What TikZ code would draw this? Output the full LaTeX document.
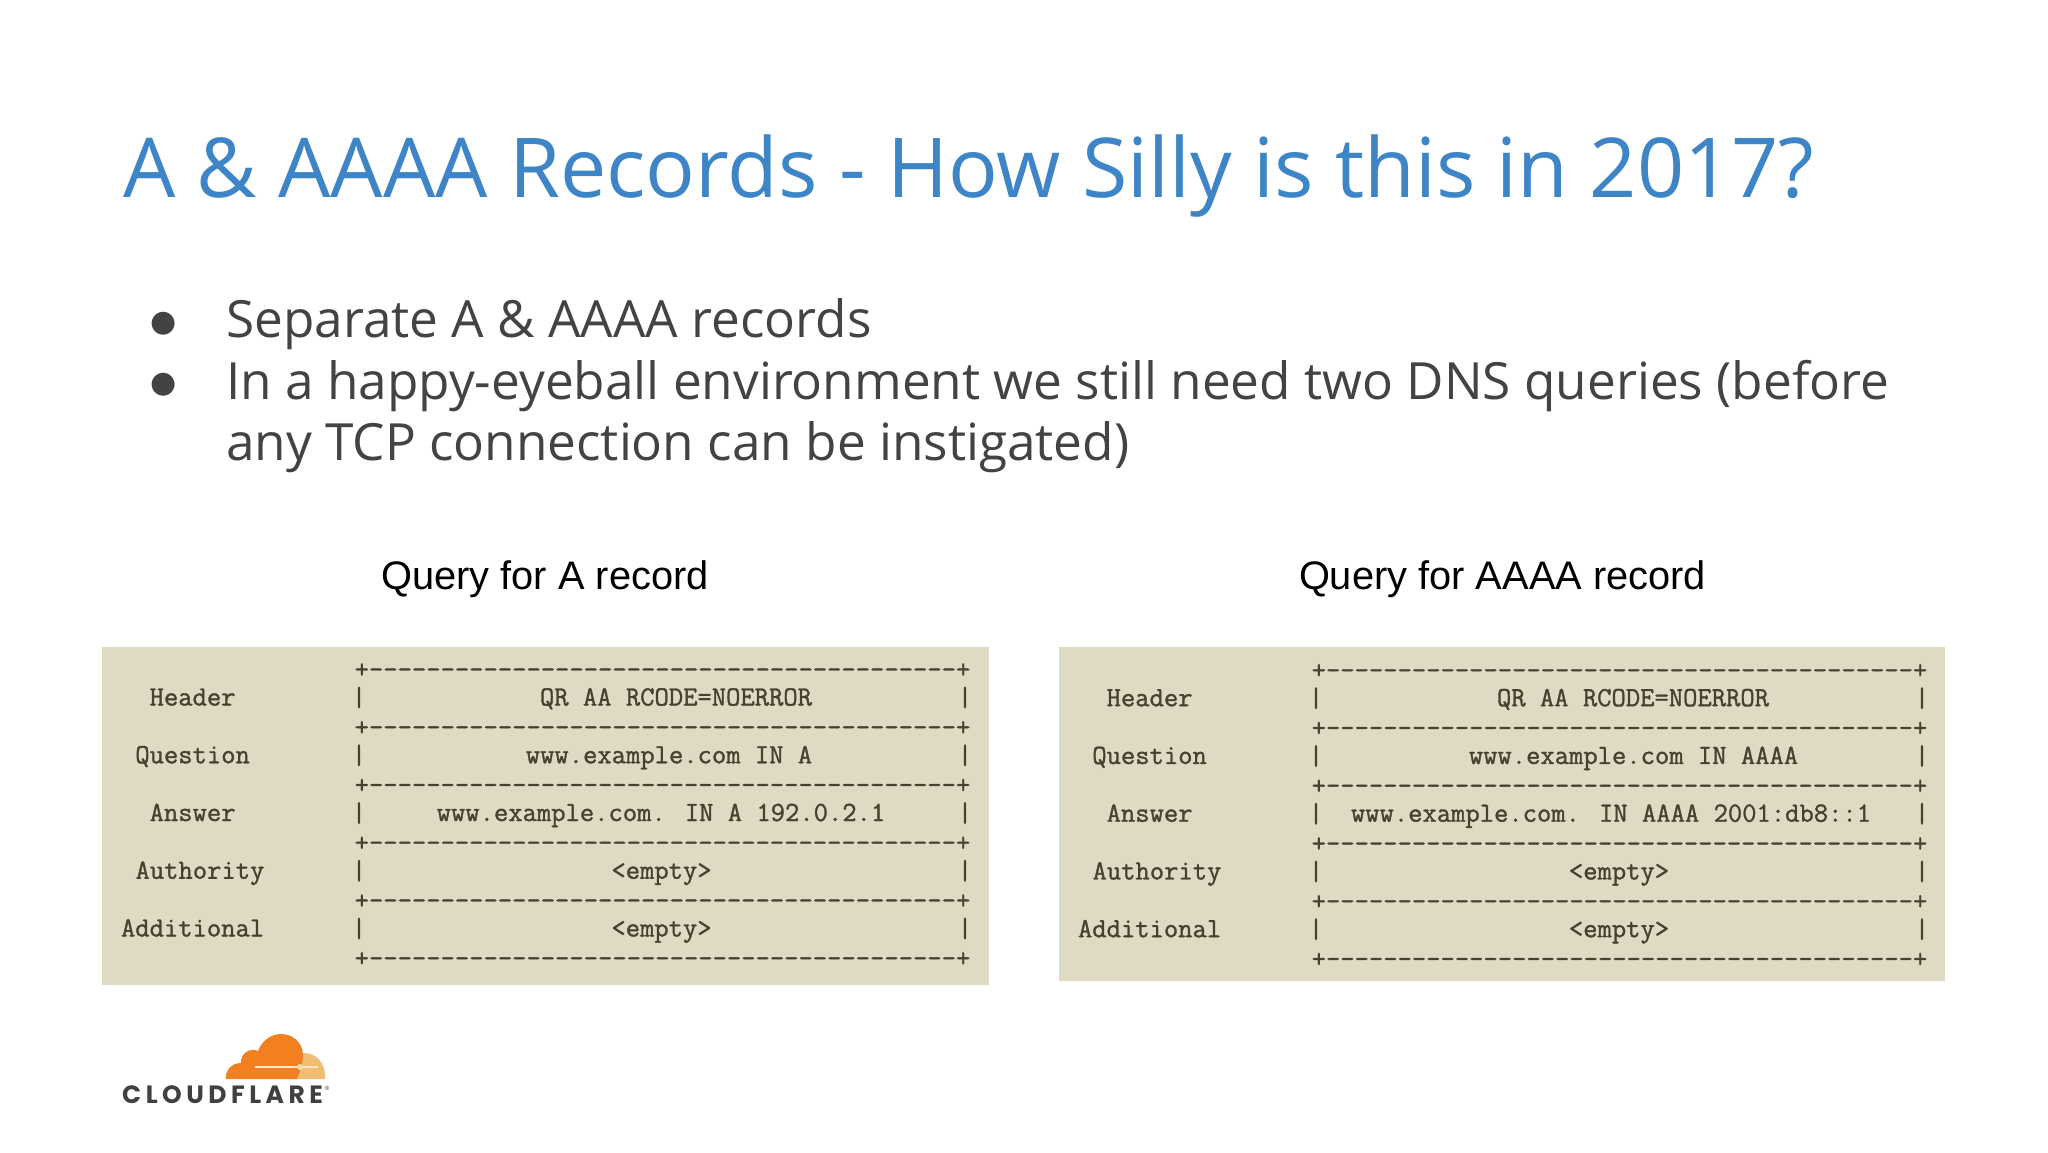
\documentclass[tikz,border=0pt]{standalone}
\usepackage{fontspec}
\setmainfont{Open Sans}
\newfontfamily\labelfont{Liberation Sans}
\newfontfamily\bulletfont{DejaVu Sans}
\newfontfamily\logofont[LetterSpace=18]{Poppins}
\newfontfamily\asciifont[FakeBold=1.2]{Latin Modern Mono}
\newcommand{\pxfont}[1]{\fontsize{#1}{#1}\selectfont}
\definecolor{titleblue}{HTML}{3D85C6}
\definecolor{bodygrey}{HTML}{434343}
\definecolor{panelbg}{HTML}{DFDAC4}
\definecolor{asciiink}{HTML}{4A4030}
\definecolor{cforange}{HTML}{F38020}
\definecolor{cflight}{HTML}{EFBE72}
\definecolor{cfgrey}{HTML}{404041}
\tikzset{
  x=1pt,y=-1pt,
  titletext/.style={anchor=base west,inner sep=0,text=titleblue,font=\pxfont{82.6}},
  bodytext/.style={anchor=base west,inner sep=0,text=bodygrey,font=\pxfont{51.3}},
  bulletmark/.style={anchor=center,inner sep=0,text=bodygrey,font=\bulletfont\pxfont{30}},
  querylabel/.style={anchor=center,inner sep=0,text=black,font=\labelfont\pxfont{39.8}},
  panel/.style={fill=panelbg,draw=none},
  ascii/.style={anchor=base,inner sep=0,text=asciiink,font=\asciifont\pxfont{27.8}},
  logotext/.style={anchor=base west,inner sep=0,text=cfgrey,font=\logofont\bfseries\pxfont{25}},
}
% #1 prefix, #2 x offset, #3 y offset, #4 question, #5 answer, #6 header x, #7 question x, #8 answer x, #9 empty x
\newcommand{\dnstable}[9]{%
  \foreach \nm/\rowy/\lab/\labx/\val/\valx in {a/0/Header/192.6/{QR AA RCODE=NOERROR}/#6,b/1/Question/192.6/{#4}/#7,c/2/Answer/192.6/{#5}/#8,d/3/Authority/200/{<empty>}/#9,e/4/Additional/192.6/{<empty>}/#9}{
    \node[ascii] (#1lab\nm) at ({#2+\labx},{#3+705.5+57.75*\rowy}) {\lab};
    \node[ascii] (#1val\nm) at ({#2+\valx},{#3+705.5+57.75*\rowy}) {\val};
    \node[ascii] (#1bl\nm) at ({#2+359},{#3+706+57.75*\rowy}) {|};
    \node[ascii] (#1br\nm) at ({#2+965},{#3+706+57.75*\rowy}) {|};
  }
  \foreach \rw in {0,...,5}{
    \node[ascii] (#1rule\rw) at ({#2+662.5},{#3+678+57.75*\rw}) {+-----------------------------------------+};
  }
}
\begin{document}
\begin{tikzpicture}
\useasboundingbox (0,0) rectangle (2048,1152);
\fill[white] (0,0) rectangle (2048,1152);
\node[titletext] (title) at (123,197) {A \& AAAA Records - How Silly is this in 2017?};
\node[bulletmark] (b1) at (164,323.5) {●};
\node[bulletmark] (b2) at (164,384.5) {●};
\node[bodytext] (l1) at (226,337) {Separate A \& AAAA records};
\node[bodytext] (l2) at (226,399) {In a happy-eyeball environment we still need two DNS queries (before};
\node[bodytext] (l3) at (226,460) {any TCP connection can be instigated)};
\node[querylabel] (q1) at (545,579.5) {Query for A record};
\node[querylabel] (q2) at (1502.5,579.5) {Query for AAAA record};
\fill[panel] (102,647) rectangle (989,985);
\fill[panel] (1059,647) rectangle (1945,981);
\dnstable{p}{0}{0}{www.example.com IN A}{www.example.com. IN A 192.0.2.1}{676}{669}{661}{661.5}
\dnstable{q}{957}{0.7}{www.example.com IN AAAA}{www.example.com. IN AAAA 2001:db8::1}{676}{676.5}{654}{662}
% logo
\fill[cflight] (295,1079) -- (302,1053) .. controls (315,1052) and (326,1062) .. (325,1079) -- cycle;
\fill[cforange] (226,1079) .. controls (225,1071) and (231,1063) .. (241,1063) .. controls (240,1054) and (250,1047) .. (258,1051) .. controls (262,1040) and (272,1034) .. (281,1034) .. controls (293,1034) and (303,1043) .. (303,1055) .. controls (303,1063) and (300,1072) .. (297,1079) -- cycle;
\draw[white!60!cflight,line width=1.5] (255,1067) -- (318,1067);
\fill[white!40!cflight] (300,1067) circle (3);
\node[logotext] (logo) at (122,1103) {CLOUDFLARE};
\node[anchor=center,inner sep=0,text=cfgrey,font=\labelfont\pxfont{6}] (reg) at (327,1088) {®};
\end{tikzpicture}
\end{document}
